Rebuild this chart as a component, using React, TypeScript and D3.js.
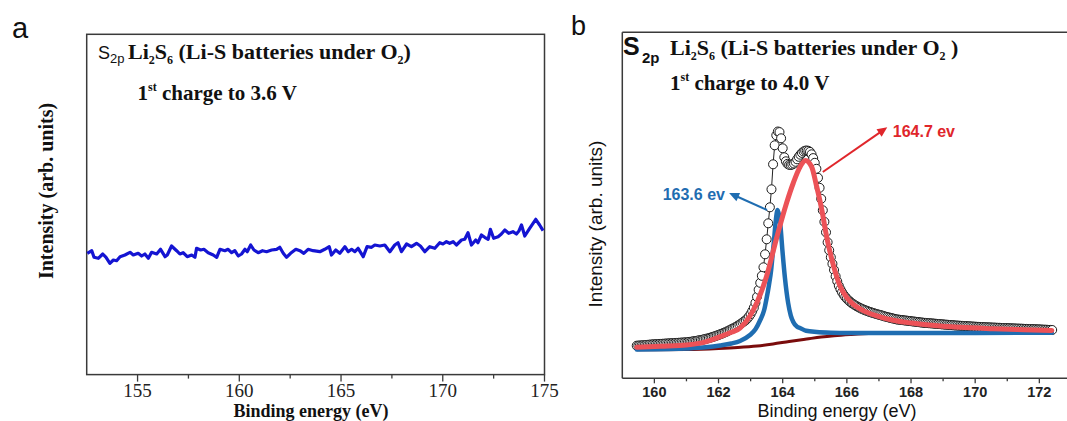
import React from "react";
import * as d3 from "d3";

// ---------- Panel a : S2p, 1st charge to 3.6 V ----------
const aEnergy = [
  152.53, 152.75, 152.86, 153.07, 153.29, 153.45, 153.64, 153.81, 153.97, 154.14,
  154.38, 154.63, 154.79, 155.03, 155.2, 155.36, 155.53, 155.69, 155.94, 156.13,
  156.35, 156.46, 156.67, 156.92, 157.08, 157.24, 157.44, 157.66, 157.82, 157.9,
  158.1, 158.26, 158.47, 158.72, 158.89, 159.05, 159.29, 159.45, 159.62, 159.78,
  159.95, 160.11, 160.28, 160.39, 160.56, 160.72, 160.93, 161.14, 161.34, 161.59,
  161.83, 161.99, 162.16, 162.32, 162.52, 162.78, 162.98, 163.17, 163.38, 163.63,
  163.96, 164.2, 164.42, 164.53, 164.74, 164.94, 165.19, 165.35, 165.52, 165.68,
  165.84, 166.09, 166.28, 166.5, 166.66, 166.91, 167.15, 167.4, 167.64, 167.8,
  167.97, 168.22, 168.46, 168.71, 168.9, 169.12, 169.36, 169.61, 169.85, 170.01,
  170.18, 170.34, 170.51, 170.67, 170.92, 171.08, 171.24, 171.41, 171.62, 171.73,
  171.9, 172.06, 172.23, 172.34, 172.5, 172.72, 172.88, 173.05, 173.24, 173.45,
  173.62, 173.75, 173.87, 174.03, 174.27, 174.57, 174.76, 174.93,
];
const aIntensity = [
  121.3, 123.9, 117.3, 116.3, 120.6, 117.3, 111.3, 114.6, 113.9, 117.9,
  119.6, 122.3, 119.6, 121.3, 118.6, 120.6, 116.3, 122.3, 120.6, 125.3,
  117.9, 119.6, 128.6, 123.9, 120.6, 121.9, 117.9, 119.6, 117.3, 126.3,
  124.6, 125.3, 121.9, 119.6, 117.3, 125.3, 123.9, 125.3, 121.9, 123.9,
  118.6, 120.6, 125.3, 122.9, 129.6, 124.6, 121.9, 123.9, 122.9, 124.6,
  125.3, 127.3, 121.3, 117.3, 121.3, 125.3, 123.9, 121.3, 125.3, 123.9,
  122.9, 125.3, 127.9, 119.6, 124.6, 121.3, 127.9, 122.9, 125.3, 122.9,
  126.3, 117.9, 127.9, 127.3, 129.6, 128.6, 129.6, 122.9, 129.6, 131.9,
  122.9, 130.6, 127.9, 131.3, 128.6, 122.9, 127.9, 126.3, 131.9, 130.6,
  132.9, 131.3, 132.9, 129.6, 134.6, 135.3, 141.9, 129.6, 134.6, 131.9,
  139.6, 137.3, 135.3, 145.3, 136.3, 137.9, 140.6, 144.6, 141.3, 142.9,
  140.6, 143.9, 149.6, 138.6, 146.3, 155.3, 149.6, 143.9,
];
const aMajorTicks = [155, 160, 165, 170, 175];
const aMinorTicks = [157.5, 162.5, 167.5, 172.5];

// ---------- Panel b : S2p, 1st charge to 4.0 V ----------
const bStartEnergy = 159.45;
const bEnergyStep = 0.05;
const bMeasured = [
  32.6, 32.7, 32.8, 32.9, 33.0, 33.2, 33.3, 33.5, 33.6, 33.8, 33.9, 34.0,
  34.1, 34.2, 34.3, 34.4, 34.5, 34.6, 34.7, 34.8, 34.9, 35.0, 35.1, 35.2, 35.3, 35.4, 35.5, 35.6, 35.7, 35.8, 35.9, 36.0,
  36.2, 36.4, 36.6, 36.9, 37.1, 37.4, 37.7, 38.0, 38.3, 38.6, 39.0, 39.4, 39.8, 40.2, 40.7, 41.2, 41.7,
  42.2, 42.8, 43.4, 44.0, 44.6, 45.3, 46.0, 46.7, 47.5, 48.3, 49.1, 49.9,
  50.7, 51.6, 52.6, 53.6, 54.7, 55.8, 57.0, 58.2, 59.8, 61.8, 64.2, 67.2, 70.6,
  75.5, 81.5, 88.5, 95.5, 102.5, 111, 124, 139, 155, 171, 189, 214, 233, 243, 246.8,
  246.2, 240, 230, 221, 217, 214.5, 213.5, 213.3, 213.8, 214.8, 216.5, 219, 221.5,
  223.6, 225.4, 226.8, 227.6, 227.8, 227.4, 226.4, 224, 220.2, 215.5,
  209.5, 200.5, 190.5, 179.5, 168, 156.5, 146, 136, 128, 121, 114.5,
  108.3, 102, 97, 92.5, 89, 86, 83.5, 81.4, 79.6, 78.0, 76.6, 75.3, 74.2, 73.2, 72.2, 71.3, 70.5, 69.7, 69.0,
  68.3, 67.7, 67.1, 66.5, 66.0, 65.5, 65.0, 64.5, 64.0, 63.6, 63.2,
  62.7, 62.2, 61.7, 61.3, 60.9, 60.5, 60.1, 59.7, 59.3, 58.9,
  58.7, 58.5, 58.3, 58.1, 57.9, 57.7, 57.5, 57.3, 57.1, 56.9, 56.7, 56.5, 56.3, 56.1, 55.9, 55.7, 55.5, 55.4, 55.2, 55.1, 55.0,
  54.9, 54.7, 54.6, 54.4, 54.3, 54.2, 54.0, 53.9, 53.7, 53.6, 53.5, 53.3, 53.2, 53.1, 52.9, 52.8, 52.7, 52.6, 52.5, 52.4,
  52.3, 52.2, 52.1, 52.0, 51.9, 51.8, 51.7, 51.6, 51.5, 51.4, 51.4, 51.3, 51.2, 51.1, 51.0, 50.9, 50.9, 50.8, 50.7, 50.7, 50.6,
  50.5, 50.5, 50.4, 50.3, 50.3, 50.2, 50.1, 50.1, 50.0, 49.9, 49.9, 49.8, 49.7, 49.7, 49.6, 49.6, 49.5, 49.4, 49.4, 49.3, 49.3,
  49.2, 49.1, 49.1, 49.0, 48.9, 48.9, 48.8, 48.7, 48.6, 48.6, 48.5, 48.4, 48.4, 48.3,
];

// fitted component at 164.7 eV (red)
const bRedEnergy = [159.45, 160.2, 161.0, 161.6, 162.05, 162.4, 162.67, 162.98, 163.19, 163.5, 163.81, 164.12, 164.33, 164.54, 164.71, 164.9, 165.06, 165.22, 165.37, 165.58, 165.79, 165.99, 166.2, 166.41, 166.7, 166.93, 167.44, 168.0, 168.49, 169.53, 170.56, 171.5, 172.39];
const bRedIntensity = [31, 32.0, 33.3, 36.5, 41.6, 46, 50.3, 62.3, 75.3, 102.3, 140.3, 175.3, 195.3, 211.3, 217.8, 211.6, 191.6, 168.3, 141.6, 113, 92, 81, 74, 69.5, 65, 62.5, 58, 55.3, 53.6, 51, 49.6, 48.6, 47.8];

// fitted component at 163.6 eV (blue)
const bBlueEnergy = [159.45, 160.5, 161.01, 161.6, 162.05, 162.4, 162.67, 162.98, 163.15, 163.3, 163.42, 163.5, 163.57, 163.64, 163.69, 163.73, 163.77, 163.8, 163.84, 163.88, 163.93, 163.99, 164.07, 164.17, 164.25, 164.33, 164.45, 164.54, 164.73, 165.06, 165.5, 166.1, 168, 170, 172.39];
const bBlueIntensity = [28.8, 29.2, 29.8, 31.0, 32.8, 34.8, 37.3, 43.3, 49, 58.3, 68, 80.3, 93, 108.3, 125, 138.3, 153, 162, 168.3, 164, 152.3, 128.3, 100.3, 75.3, 63, 56.3, 51.5, 50.3, 47.5, 46.3, 45.6, 45.3, 45.2, 45.4, 45.6];

// background (dark red)
const bBgEnergy = [159.45, 161.0, 162.0, 162.6, 163.2, 163.7, 164.2, 164.75, 165.2, 165.6, 166.1, 166.8, 168, 172.39];
const bBgIntensity = [28.5, 28.8, 29.8, 30.8, 32.3, 34.3, 36.8, 39.3, 41.3, 42.6, 43.8, 45.0, 45.5, 45.8];

const bMajorTicks = [160, 162, 164, 166, 168, 170, 172];
const bMinorTicks = [161, 163, 165, 167, 169, 171];

// annotations in data units (text anchor, arrow tail, arrow tip)
const bRedNote = { label: "164.7 ev", tx: 167.43, ty: 241.3, x0: 165.25, y0: 206.3, x1: 167.26, y1: 251.0 };
const bBlueNote = { label: "163.6 ev", tx: 162.2, ty: 178.3, x0: 163.51, y0: 168.3, x1: 162.33, y1: 185.3 };

const SERIF = "'Liberation Serif', 'Times New Roman', serif";
const SANS = "'Liberation Sans', Arial, sans-serif";
const AXIS = "#3a3a3a";

function Arrow({ x0, y0, x1, y1, color, w }: { x0: number; y0: number; x1: number; y1: number; color: string; w: number }) {
  const dx = x1 - x0, dy = y1 - y0;
  const len = Math.hypot(dx, dy);
  const ux = dx / len, uy = dy / len;
  const hl = 10, hw = 4.5;
  const bx = x1 - ux * hl, by = y1 - uy * hl;
  const pts = [
    [x1, y1],
    [bx - uy * hw, by + ux * hw],
    [bx + uy * hw, by - ux * hw],
  ];
  return (
    <g>
      <line x1={x0} y1={y0} x2={bx + ux * 2} y2={by + uy * 2} stroke={color} strokeWidth={w} />
      <polygon points={pts.map((p) => p.join(",")).join(" ")} fill={color} />
    </g>
  );
}

export default function App() {
  // panel a scales
  const aL = 86.7, aR = 544.5, aT = 34.3, aB = 374.6;
  const xA = d3.scaleLinear().domain([152.5, 175]).range([aL, aR]);
  const yA = d3.scaleLinear().domain([0, 340.3]).range([aB, aT]);
  const lineA = d3
    .line<number>()
    .x((_, i) => xA(aEnergy[i]))
    .y((d) => yA(d))
    .curve(d3.curveLinear);

  // panel b scales
  const bL = 622.3, bT = 32.3, bB = 378.3;
  const xB = d3.scaleLinear().domain([159, 173]).range([bL, bL + 14 * 32.08]);
  const yB = d3.scaleLinear().domain([0, 346]).range([bB, bT]);
  const fit = (ex: number[]) =>
    d3
      .line<number>()
      .x((_, i) => xB(ex[i]))
      .y((d) => yB(d))
      .curve(d3.curveMonotoneX);
  const measEnergy = bMeasured.map((_, i) => bStartEnergy + i * bEnergyStep);
  const measLine = d3
    .line<number>()
    .x((_, i) => xB(measEnergy[i]))
    .y((d) => yB(d));

  const subDy = 5;

  return (
    <svg width={1067} height={421} style={{ position: "absolute", left: 0, top: 0, background: "#fff" }}>
      <rect x={0} y={0} width={1067} height={421} fill="#fff" />
      {/* ================= Panel a ================= */}
      <text x={12} y={38} fontFamily={SANS} fontSize={29} fill="#111">a</text>
      <rect x={aL} y={aT} width={aR - aL} height={aB - aT} fill="none" stroke={AXIS} strokeWidth={1.5} />
      {aMajorTicks.map((t) => (
        <g key={"am" + t}>
          <line x1={xA(t)} x2={xA(t)} y1={aB} y2={aB + 7} stroke={AXIS} strokeWidth={1.3} />
          <text x={xA(t)} y={396.5} textAnchor="middle" fontFamily={SERIF} fontSize={19} fill="#222">{t}</text>
        </g>
      ))}
      {aMinorTicks.map((t) => (
        <line key={"an" + t} x1={xA(t)} x2={xA(t)} y1={aB} y2={aB + 4} stroke={AXIS} strokeWidth={1.3} />
      ))}
      <path d={lineA(aIntensity) || ""} fill="none" stroke="#1414d2" strokeWidth={3.2} strokeLinejoin="round" />
      <text x={311} y={417} textAnchor="middle" fontFamily={SERIF} fontWeight="bold" fontSize={18} fill="#111">
        Binding energy (eV)
      </text>
      <text transform="translate(53,191) rotate(-90)" textAnchor="middle" fontFamily={SERIF} fontWeight="bold" fontSize={20} fill="#111">
        Intensity (arb. units)
      </text>
      <text y={59} fill="#111">
        <tspan x={98} fontFamily={SANS} fontSize={18}>S</tspan>
        <tspan fontFamily={SANS} fontSize={13} dy={4}>2p</tspan>
        <tspan x={128} dy={-4} fontFamily={SERIF} fontWeight="bold" fontSize={22}>Li</tspan>
        <tspan fontFamily={SERIF} fontWeight="bold" fontSize={12} dy={subDy}>2</tspan>
        <tspan fontFamily={SERIF} fontWeight="bold" fontSize={22} dy={-subDy}>S</tspan>
        <tspan fontFamily={SERIF} fontWeight="bold" fontSize={12} dy={subDy}>6</tspan>
        <tspan fontFamily={SERIF} fontWeight="bold" fontSize={22} dy={-subDy}> (Li-S batteries under O</tspan>
        <tspan fontFamily={SERIF} fontWeight="bold" fontSize={12} dy={subDy}>2</tspan>
        <tspan fontFamily={SERIF} fontWeight="bold" fontSize={22} dy={-subDy}>)</tspan>
      </text>
      <text y={100} fontFamily={SERIF} fontWeight="bold" fill="#111">
        <tspan x={137.5} fontSize={21}>1</tspan>
        <tspan fontSize={12} dy={-9}>st</tspan>
        <tspan fontSize={21} dy={9}> charge to 3.6 V</tspan>
      </text>

      {/* ================= Panel b ================= */}
      <text x={571} y={35} fontFamily={SANS} fontSize={27} fill="#111">b</text>
      <line x1={bL} x2={bL} y1={bT} y2={bB} stroke={AXIS} strokeWidth={1.5} />
      <line x1={bL} x2={1067} y1={bT} y2={bT} stroke={AXIS} strokeWidth={1.5} />
      <line x1={bL} x2={1067} y1={bB} y2={bB} stroke={AXIS} strokeWidth={1.5} />
      {bMajorTicks.map((t) => (
        <g key={"bm" + t}>
          <line x1={xB(t)} x2={xB(t)} y1={bB} y2={bB + 5} stroke={AXIS} strokeWidth={1.3} />
          <text x={xB(t)} y={397} textAnchor="middle" fontFamily={SANS} fontWeight="bold" fontSize={14.5} fill="#222">{t}</text>
        </g>
      ))}
      {bMinorTicks.map((t) => (
        <line key={"bn" + t} x1={xB(t)} x2={xB(t)} y1={bB} y2={bB + 3} stroke={AXIS} strokeWidth={1.3} />
      ))}

      {/* measured data: thin line + open circles */}
      <path d={measLine(bMeasured) || ""} fill="none" stroke="#222" strokeWidth={1} />
      {bMeasured.map((v, i) => (
        <circle key={"c" + i} cx={xB(measEnergy[i])} cy={yB(v)} r={4.5} fill="#fff" stroke="#1a1a1a" strokeWidth={1} />
      ))}
      {/* background, components */}
      <path d={fit(bBgEnergy)(bBgIntensity) || ""} fill="none" stroke="#7a0c0c" strokeWidth={3} />
      <path d={fit(bBlueEnergy)(bBlueIntensity) || ""} fill="none" stroke="#1f6db1" strokeWidth={4.5} strokeLinecap="round" />
      <path d={fit(bRedEnergy)(bRedIntensity) || ""} fill="none" stroke="#ec5257" strokeWidth={5} strokeLinecap="round" />

      {/* annotations */}
      <Arrow x0={xB(bRedNote.x0)} y0={yB(bRedNote.y0)} x1={xB(bRedNote.x1)} y1={yB(bRedNote.y1)} color="#e0262b" w={2} />
      <text x={xB(bRedNote.tx)} y={yB(bRedNote.ty)} fontFamily={SANS} fontWeight="bold" fontSize={16} fill="#e0262b">{bRedNote.label}</text>
      <Arrow x0={xB(bBlueNote.x0)} y0={yB(bBlueNote.y0)} x1={xB(bBlueNote.x1)} y1={yB(bBlueNote.y1)} color="#1f6db1" w={2} />
      <text x={xB(bBlueNote.tx)} y={yB(bBlueNote.ty)} textAnchor="end" fontFamily={SANS} fontWeight="bold" fontSize={16} fill="#1f6db1">{bBlueNote.label}</text>

      <text x={837} y={417} textAnchor="middle" fontFamily={SANS} fontSize={18} fill="#111">Binding energy (eV)</text>
      <text transform="translate(601.5,224) rotate(-90)" textAnchor="middle" fontFamily={SANS} fontSize={19} fill="#111">
        Intensity (arb. units)
      </text>
      <text x={623} y={55} fontFamily={SANS} fontWeight="bold" fontSize={25} fill="#111">S</text>
      <text x={642} y={63} fontFamily={SANS} fontWeight="bold" fontSize={15} fill="#111">2p</text>
      <text y={55} fill="#111" fontFamily={SERIF} fontWeight="bold">
        <tspan x={670} fontSize={22}>Li</tspan>
        <tspan fontSize={12} dy={subDy}>2</tspan>
        <tspan fontSize={22} dy={-subDy}>S</tspan>
        <tspan fontSize={12} dy={subDy}>6</tspan>
        <tspan fontSize={22} dy={-subDy}> (Li-S batteries under O</tspan>
        <tspan fontSize={12} dy={subDy}>2</tspan>
        <tspan fontSize={22} dy={-subDy}> )</tspan>
      </text>
      <text y={90} fontFamily={SERIF} fontWeight="bold" fill="#111">
        <tspan x={670} fontSize={21}>1</tspan>
        <tspan fontSize={12} dy={-9}>st</tspan>
        <tspan fontSize={21} dy={9}> charge to 4.0 V</tspan>
      </text>
    </svg>
  );
}
